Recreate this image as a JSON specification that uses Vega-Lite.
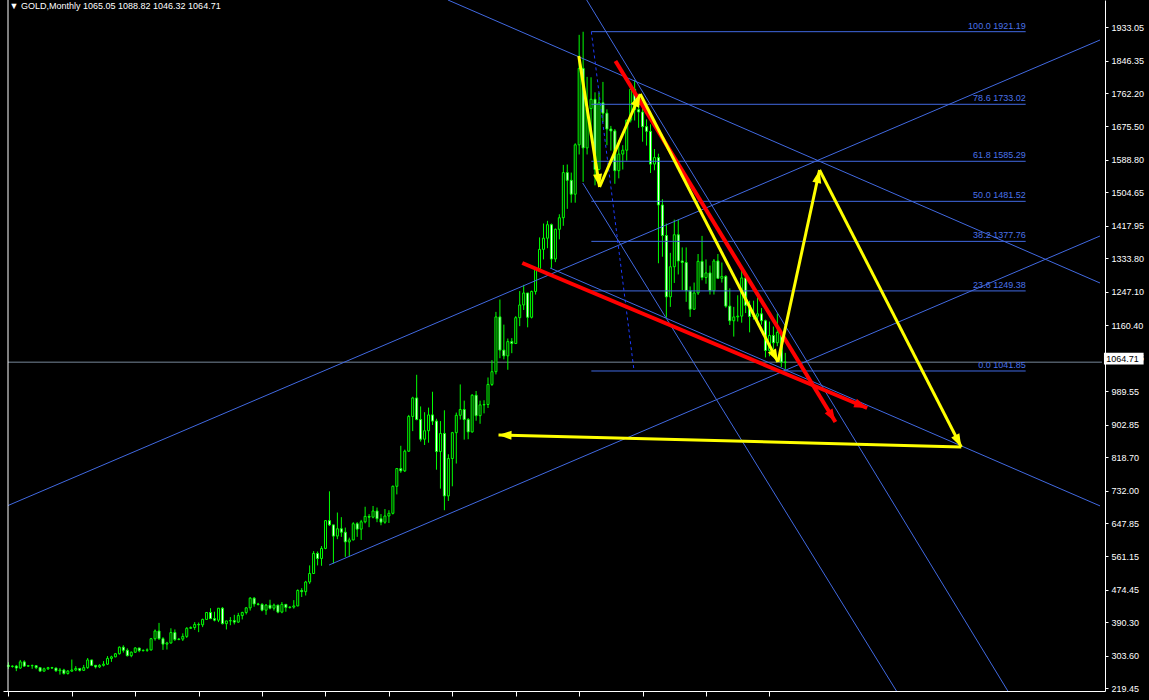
{
"$schema":"https://vega.github.io/schema/vega-lite/v6.json",
"width":1102,"height":691,
"autosize":{"type":"none"},
"padding":{"left":3,"top":0,"right":44,"bottom":9},
"background":"#000000",
"config":{"view":{"stroke":null},"axis":{"grid":false,"labelOverlap":false,"labelFont":"Liberation Sans","labelFontSize":9,"labelColor":"#ffffff","domainColor":"#ffffff","tickColor":"#ffffff","domainWidth":1,"tickWidth":1}},
"datasets":{
"candles":[
{"i":0,"o":279,"h":287,"l":270,"c":276},{"i":1,"o":276,"h":279,"l":273,"c":277},{"i":2,"o":277,"h":280,"l":264,"c":272},{"i":3,"o":272,"h":293,"l":270,"c":288},{"i":4,"o":288,"h":292,"l":275,"c":277},{"i":5,"o":277,"h":280,"l":275,"c":278},{"i":6,"o":278,"h":281,"l":270,"c":278.5},{"i":7,"o":278,"h":279,"l":269,"c":273},{"i":8,"o":273,"h":274,"l":263,"c":264},{"i":9,"o":264,"h":273,"l":263,"c":270},{"i":10,"o":270,"h":275,"l":267,"c":273},{"i":11,"o":273,"h":275,"l":270,"c":272},{"i":12,"o":272,"h":273,"l":262,"c":265},{"i":13,"o":265,"h":272,"l":255,"c":267},{"i":14,"o":267,"h":270,"l":255,"c":258},{"i":15,"o":258,"h":267,"l":255,"c":264},
{"i":16,"o":264,"h":294,"l":262,"c":267},{"i":17,"o":267,"h":277,"l":264,"c":271},{"i":18,"o":271,"h":272,"l":263,"c":266},{"i":19,"o":266,"h":280,"l":265,"c":273},{"i":20,"o":273,"h":298,"l":270,"c":293},{"i":21,"o":293,"h":293,"l":277,"c":279},{"i":22,"o":279,"h":280,"l":271,"c":275},{"i":23,"o":275,"h":282,"l":272,"c":279},{"i":24,"o":279,"h":290,"l":276,"c":282},{"i":25,"o":282,"h":303,"l":280,"c":297},{"i":26,"o":297,"h":304,"l":288,"c":301},{"i":27,"o":301,"h":311,"l":300,"c":309},{"i":28,"o":309,"h":328,"l":307,"c":326},{"i":29,"o":326,"h":331,"l":312,"c":318},{"i":30,"o":318,"h":323,"l":302,"c":304},{"i":31,"o":304,"h":315,"l":300,"c":313},
{"i":32,"o":313,"h":326,"l":311,"c":324},{"i":33,"o":324,"h":324,"l":313,"c":317},{"i":34,"o":317,"h":320,"l":315,"c":318},{"i":35,"o":318,"h":323,"l":314,"c":319},{"i":36,"o":319,"h":350,"l":317,"c":348},{"i":37,"o":348,"h":372,"l":343,"c":368},{"i":38,"o":368,"h":389,"l":345,"c":348},{"i":39,"o":348,"h":352,"l":319,"c":334},{"i":40,"o":334,"h":340,"l":320,"c":337},{"i":41,"o":337,"h":375,"l":335,"c":364},{"i":42,"o":364,"h":372,"l":342,"c":346},{"i":43,"o":346,"h":350,"l":344,"c":347},{"i":44,"o":347,"h":362,"l":342,"c":354},{"i":45,"o":354,"h":378,"l":350,"c":375},{"i":46,"o":375,"h":380,"l":373,"c":377},{"i":47,"o":377,"h":391,"l":371,"c":385},
{"i":48,"o":385,"h":390,"l":365,"c":384},{"i":49,"o":384,"h":400,"l":378,"c":398},{"i":50,"o":398,"h":417,"l":397,"c":416},{"i":51,"o":416,"h":427,"l":399,"c":400},{"i":52,"o":400,"h":418,"l":393,"c":396},{"i":53,"o":396,"h":427,"l":391,"c":427},{"i":54,"o":427,"h":430,"l":385,"c":387},{"i":55,"o":387,"h":395,"l":372,"c":394},{"i":56,"o":394,"h":404,"l":383,"c":395},{"i":57,"o":395,"h":410,"l":385,"c":391},{"i":58,"o":391,"h":415,"l":389,"c":408},{"i":59,"o":408,"h":418,"l":398,"c":416},{"i":60,"o":416,"h":430,"l":411,"c":428},{"i":61,"o":428,"h":456,"l":421,"c":453},{"i":62,"o":453,"h":456,"l":431,"c":438},{"i":63,"o":438,"h":441,"l":434,"c":437},
{"i":64,"o":437,"h":440,"l":419,"c":422},{"i":65,"o":422,"h":438,"l":410,"c":435},{"i":66,"o":435,"h":449,"l":424,"c":427},{"i":67,"o":427,"h":439,"l":421,"c":435},{"i":68,"o":435,"h":436,"l":414,"c":417},{"i":69,"o":417,"h":443,"l":414,"c":437},{"i":70,"o":437,"h":438,"l":418,"c":429},{"i":71,"o":429,"h":432,"l":426,"c":430},{"i":72,"o":430,"h":448,"l":426,"c":433},{"i":73,"o":433,"h":476,"l":432,"c":473},{"i":74,"o":473,"h":479,"l":456,"c":470},{"i":75,"o":470,"h":498,"l":460,"c":495},{"i":76,"o":495,"h":538,"l":490,"c":517},{"i":77,"o":517,"h":575,"l":516,"c":569},{"i":78,"o":569,"h":574,"l":538,"c":556},{"i":79,"o":556,"h":588,"l":537,"c":582},
{"i":80,"o":582,"h":655,"l":580,"c":654},{"i":81,"o":654,"h":730,"l":640,"c":643},{"i":82,"o":643,"h":643,"l":543,"c":614},{"i":83,"o":614,"h":675,"l":606,"c":633},{"i":84,"o":633,"h":663,"l":612,"c":624},{"i":85,"o":624,"h":636,"l":560,"c":599},{"i":86,"o":599,"h":610,"l":561,"c":604},{"i":87,"o":604,"h":650,"l":603,"c":646},{"i":88,"o":646,"h":650,"l":612,"c":632},{"i":89,"o":632,"h":656,"l":604,"c":651},{"i":90,"o":651,"h":690,"l":647,"c":665},{"i":91,"o":665,"h":671,"l":637,"c":663},{"i":92,"o":663,"h":692,"l":660,"c":679},{"i":93,"o":679,"h":688,"l":650,"c":659},{"i":94,"o":659,"h":671,"l":642,"c":650},{"i":95,"o":650,"h":684,"l":646,"c":666},
{"i":96,"o":666,"h":681,"l":648,"c":673},{"i":97,"o":673,"h":745,"l":670,"c":743},{"i":98,"o":743,"h":790,"l":722,"c":789},{"i":99,"o":789,"h":848,"l":778,"c":783},{"i":100,"o":783,"h":838,"l":780,"c":834},{"i":101,"o":834,"h":928,"l":832,"c":924},{"i":102,"o":924,"h":975,"l":886,"c":972},{"i":103,"o":972,"h":1032,"l":914,"c":916},{"i":104,"o":916,"h":950,"l":859,"c":865},{"i":105,"o":865,"h":935,"l":850,"c":887},{"i":106,"o":887,"h":947,"l":856,"c":928},{"i":107,"o":928,"h":988,"l":902,"c":912},{"i":108,"o":912,"h":918,"l":786,"c":833},{"i":109,"o":833,"h":912,"l":737,"c":880},{"i":110,"o":880,"h":940,"l":681,"c":718},{"i":111,"o":718,"h":826,"l":705,"c":815},
{"i":112,"o":815,"h":884,"l":743,"c":882},{"i":113,"o":882,"h":934,"l":802,"c":927},{"i":114,"o":927,"h":1007,"l":916,"c":942},{"i":115,"o":942,"h":965,"l":864,"c":916},{"i":116,"o":916,"h":920,"l":865,"c":884},{"i":117,"o":884,"h":982,"l":882,"c":979},{"i":118,"o":979,"h":990,"l":913,"c":926},{"i":119,"o":926,"h":965,"l":905,"c":954},{"i":120,"o":954,"h":966,"l":932,"c":955},{"i":121,"o":955,"h":1025,"l":946,"c":1007},{"i":122,"o":1007,"h":1070,"l":1003,"c":1040},{"i":123,"o":1040,"h":1195,"l":1033,"c":1182},{"i":124,"o":1182,"h":1227,"l":1075,"c":1096},{"i":125,"o":1096,"h":1162,"l":1072,"c":1081},{"i":126,"o":1081,"h":1126,"l":1045,"c":1118},{"i":127,"o":1118,"h":1127,"l":1088,"c":1113},
{"i":128,"o":1113,"h":1184,"l":1112,"c":1180},{"i":129,"o":1180,"h":1249,"l":1158,"c":1213},{"i":130,"o":1213,"h":1265,"l":1200,"c":1244},{"i":131,"o":1244,"h":1244,"l":1155,"c":1181},{"i":132,"o":1181,"h":1250,"l":1178,"c":1248},{"i":133,"o":1248,"h":1308,"l":1240,"c":1307},{"i":134,"o":1307,"h":1388,"l":1303,"c":1357},{"i":135,"o":1357,"h":1424,"l":1331,"c":1386},{"i":136,"o":1386,"h":1431,"l":1360,"c":1421},{"i":137,"o":1421,"h":1424,"l":1309,"c":1332},{"i":138,"o":1332,"h":1411,"l":1324,"c":1409},{"i":139,"o":1409,"h":1448,"l":1383,"c":1439},{"i":140,"o":1439,"h":1576,"l":1418,"c":1556},{"i":141,"o":1556,"h":1577,"l":1462,"c":1536},{"i":142,"o":1536,"h":1556,"l":1478,"c":1500},{"i":143,"o":1500,"h":1632,"l":1478,"c":1628},
{"i":144,"o":1628,"h":1913,"l":1603,"c":1826},{"i":145,"o":1826,"h":1921,"l":1532,"c":1620},{"i":146,"o":1620,"h":1804,"l":1603,"c":1722},{"i":147,"o":1722,"h":1803,"l":1667,"c":1746},{"i":148,"o":1746,"h":1764,"l":1523,"c":1564},{"i":149,"o":1564,"h":1763,"l":1562,"c":1737},{"i":150,"o":1737,"h":1791,"l":1687,"c":1710},{"i":151,"o":1710,"h":1720,"l":1627,"c":1669},{"i":152,"o":1669,"h":1677,"l":1613,"c":1664},{"i":153,"o":1664,"h":1669,"l":1527,"c":1561},{"i":154,"o":1561,"h":1640,"l":1541,"c":1604},{"i":155,"o":1604,"h":1627,"l":1564,"c":1614},{"i":156,"o":1614,"h":1693,"l":1587,"c":1692},{"i":157,"o":1692,"h":1788,"l":1686,"c":1772},{"i":158,"o":1772,"h":1796,"l":1691,"c":1719},{"i":159,"o":1719,"h":1755,"l":1672,"c":1713},
{"i":160,"o":1713,"h":1723,"l":1636,"c":1675},{"i":161,"o":1675,"h":1694,"l":1626,"c":1663},{"i":162,"o":1663,"h":1681,"l":1555,"c":1578},{"i":163,"o":1578,"h":1617,"l":1562,"c":1595},{"i":164,"o":1595,"h":1605,"l":1321,"c":1472},{"i":165,"o":1472,"h":1487,"l":1338,"c":1393},{"i":166,"o":1393,"h":1424,"l":1180,"c":1234},{"i":167,"o":1234,"h":1348,"l":1208,"c":1312},{"i":168,"o":1312,"h":1434,"l":1270,"c":1395},{"i":169,"o":1395,"h":1434,"l":1292,"c":1327},{"i":170,"o":1327,"h":1362,"l":1251,"c":1323},{"i":171,"o":1323,"h":1362,"l":1221,"c":1250},{"i":172,"o":1250,"h":1261,"l":1182,"c":1202},{"i":173,"o":1202,"h":1271,"l":1200,"c":1244},{"i":174,"o":1244,"h":1345,"l":1239,"c":1326},{"i":175,"o":1326,"h":1392,"l":1277,"c":1284},
{"i":176,"o":1284,"h":1331,"l":1268,"c":1296},{"i":177,"o":1296,"h":1315,"l":1240,"c":1250},{"i":178,"o":1250,"h":1332,"l":1240,"c":1327},{"i":179,"o":1327,"h":1345,"l":1280,"c":1282},{"i":180,"o":1282,"h":1323,"l":1271,"c":1287},{"i":181,"o":1287,"h":1290,"l":1206,"c":1210},{"i":182,"o":1210,"h":1256,"l":1161,"c":1172},{"i":183,"o":1172,"h":1208,"l":1131,"c":1182},{"i":184,"o":1182,"h":1238,"l":1170,"c":1184},{"i":185,"o":1184,"h":1307,"l":1167,"c":1283},{"i":186,"o":1283,"h":1293,"l":1192,"c":1212},{"i":187,"o":1212,"h":1224,"l":1142,"c":1183},{"i":188,"o":1183,"h":1224,"l":1175,"c":1184},{"i":189,"o":1184,"h":1232,"l":1170,"c":1190},{"i":190,"o":1190,"h":1205,"l":1162,"c":1172},{"i":191,"o":1172,"h":1175,"l":1077,"c":1095},
{"i":192,"o":1095,"h":1170,"l":1080,"c":1134},{"i":193,"o":1134,"h":1157,"l":1098,"c":1115},{"i":194,"o":1115,"h":1191,"l":1106,"c":1142},{"i":195,"o":1142,"h":1143,"l":1052,"c":1065},{"i":196,"o":1065.05,"h":1088.82,"l":1046.32,"c":1064.71}
],
"blue":[
{"x1":-0.1,"p1":693.2,"x2":275.4,"p2":1899.6},
{"x1":80.9,"p1":539.0,"x2":275.4,"p2":1391.7},
{"x1":110.9,"p1":2003.3,"x2":275.4,"p2":1269.9},
{"x1":136.65,"p1":1308.8,"x2":275.4,"p2":692.2},
{"x1":145.9,"p1":2003.3,"x2":252.15,"p2":212.5},
{"x1":144.9,"p1":1529.0,"x2":224.05,"p2":212.5}
],
"fib":[
{"lab":"100.0 1921.19","p":1921.19},{"lab":"78.6 1733.02","p":1733.02},{"lab":"61.8 1585.29","p":1585.29},{"lab":"50.0  1481.52","p":1481.52},{"lab":"38.2 1377.76","p":1377.76},{"lab":"23.6 1249.38","p":1249.38},{"lab":"0.0 1041.85","p":1041.85}
],
"fibtrend":[{"x1":147.07,"p1":1921.19,"x2":157.85,"p2":1041.85}],
"red":[
{"x1":153.15,"p1":1845.2,"x2":208.65,"p2":909.6},
{"x1":129.65,"p1":1321.7,"x2":216.65,"p2":945.9}
],
"yellow":[
{"x1":143.9,"p1":1858.2,"x2":149.15,"p2":1518.7},
{"x1":149.15,"p1":1518.7,"x2":159.4,"p2":1759.7},
{"x1":159.4,"p1":1759.7,"x2":194.15,"p2":1065.1},
{"x1":194.15,"p1":1065.1,"x2":204.65,"p2":1562.7},
{"x1":204.65,"p1":1562.7,"x2":240.4,"p2":844.9},
{"x1":240.4,"p1":844.9,"x2":123.65,"p2":876.0}
],
"bid":[{"p":1064.71,"lab":"1064.71"}],
"head":[{"lab":"▼  GOLD,Monthly  1065.05 1088.82 1046.32 1064.71"}]
},
"layer":[
{"data":{"name":"bid"},"mark":{"type":"rule","color":"#778899","strokeWidth":1},
 "encoding":{
  "x":{"datum":-0.1,"type":"quantitative","title":null,"scale":{"domain":[-0.1,275.4],"nice":false,"zero":false},
   "axis":{"orient":"bottom","title":null,"values":[0,16,32,48,64,80,96,112,128,144,160,176,192],"tickCount":40,"labelExpr":"['1 Apr 2000','1 May 2001','1 Sep 2002','1 Oct 2003','1 Jan 2005','1 Apr 2006','1 Aug 2007','1 Dec 2008','1 Apr 2010','1 Aug 2011','1 Dec 2012','1 Apr 2014','1 Aug 2015'][round(datum.value/16)]","tickSize":5,"labelAlign":"left","labelBaseline":"top","labelPadding":2,"labelFlush":false,"labelOverlap":false,"labelBound":false}},
  "x2":{"datum":275.9},
  "y":{"field":"p","type":"quantitative","title":null,"scale":{"domain":[212.5,2003.3],"nice":false,"zero":false},
   "axis":{"orient":"right","title":null,"values":[219.45,303.6,390.3,474.45,561.15,647.85,732,818.7,902.85,989.55,1076.25,1160.4,1247.1,1333.8,1417.95,1504.65,1588.8,1675.5,1762.2,1846.35,1933.05],"tickCount":40,"format":".2f","tickSize":3,"labelPadding":3,"labelOverlap":false,"labelFlush":false,"labelBound":false}}}},
{"data":{"name":"candles"},"mark":{"type":"rule","color":"#00ff00","strokeWidth":1},
 "encoding":{
  "x":{"field":"i","type":"quantitative","title":null},
  "y":{"field":"l","type":"quantitative","title":null},
  "y2":{"field":"h"}}},
{"data":{"name":"candles"},"mark":{"type":"bar","width":2,"stroke":"#00ff00","strokeWidth":1},
 "encoding":{
  "x":{"field":"i","type":"quantitative","title":null},
  "y":{"field":"o","type":"quantitative","title":null},
  "y2":{"field":"c"},
  "fill":{"condition":{"test":"datum.c < datum.o","value":"#ffffff"},"value":"#000000"}}},
{"data":{"name":"blue"},"mark":{"type":"rule","color":"#4169e1","strokeWidth":1,"clip":true},
 "encoding":{"x":{"field":"x1","type":"quantitative","title":null},"x2":{"field":"x2"},"y":{"field":"p1","type":"quantitative","title":null},"y2":{"field":"p2"}}},
{"data":{"name":"fib"},"mark":{"type":"rule","color":"#4169e1","strokeWidth":1},
 "encoding":{"x":{"datum":147.07,"type":"quantitative"},"x2":{"datum":256.65},"y":{"field":"p","type":"quantitative","title":null}}},
{"data":{"name":"fib"},"mark":{"type":"text","color":"#4a72e8","font":"Liberation Sans","fontSize":9,"align":"right","baseline":"bottom","dy":-1},
 "encoding":{"x":{"datum":256.65,"type":"quantitative"},"y":{"field":"p","type":"quantitative","title":null},"text":{"field":"lab"}}},
{"data":{"name":"fibtrend"},"mark":{"type":"rule","color":"#1e3cff","strokeWidth":1,"strokeDash":[3,3]},
 "encoding":{"x":{"field":"x1","type":"quantitative","title":null},"x2":{"field":"x2"},"y":{"field":"p1","type":"quantitative","title":null},"y2":{"field":"p2"}}},
{"data":{"name":"red"},"mark":{"type":"rule","color":"#ff0000","strokeWidth":4},
 "encoding":{"x":{"field":"x1","type":"quantitative","title":null},"x2":{"field":"x2"},"y":{"field":"p1","type":"quantitative","title":null},"y2":{"field":"p2"}}},
{"data":{"name":"red"},"mark":{"type":"point","shape":"M0,0L-0.7,2L0.7,2Z","filled":true,"color":"#ff0000","opacity":1,"size":169,"angle":{"expr":"atan2((datum.x2-datum.x1)*4,(datum.p2-datum.p1)/2.5916)*180/PI"}},
 "encoding":{"x":{"field":"x2","type":"quantitative","title":null},"y":{"field":"p2","type":"quantitative","title":null}}},
{"data":{"name":"yellow"},"mark":{"type":"rule","color":"#ffff00","strokeWidth":3},
 "encoding":{"x":{"field":"x1","type":"quantitative","title":null},"x2":{"field":"x2"},"y":{"field":"p1","type":"quantitative","title":null},"y2":{"field":"p2"}}},
{"data":{"name":"yellow"},"mark":{"type":"point","shape":"M0,0L-0.7,2L0.7,2Z","filled":true,"color":"#ffff00","opacity":1,"size":169,"angle":{"expr":"atan2((datum.x2-datum.x1)*4,(datum.p2-datum.p1)/2.5916)*180/PI"}},
 "encoding":{"x":{"field":"x2","type":"quantitative","title":null},"y":{"field":"p2","type":"quantitative","title":null}}},
{"data":{"name":"bid"},"mark":{"type":"rect","color":"#ffffff"},
 "encoding":{"x":{"datum":276.4,"type":"quantitative"},"x2":{"datum":286.4},"y":{"datum":1089.2,"type":"quantitative"},"y2":{"datum":1058.7}}},
{"data":{"name":"bid"},"mark":{"type":"text","color":"#000000","font":"Liberation Sans","fontSize":9,"align":"left","baseline":"middle"},
 "encoding":{"x":{"datum":277.0,"type":"quantitative"},"y":{"datum":1074.2,"type":"quantitative"},"text":{"field":"lab"}}},
{"data":{"name":"head"},"mark":{"type":"text","color":"#ffffff","font":"Liberation Sans","fontSize":9,"align":"left","baseline":"middle"},
 "encoding":{"x":{"datum":0.3,"type":"quantitative"},"y":{"datum":1988,"type":"quantitative"},"text":{"field":"lab"}}},
{"data":{"name":"head"},"mark":{"type":"rule","color":"#ffffff","strokeWidth":1},
 "encoding":{"x":{"datum":-0.1,"type":"quantitative"},"y":{"datum":212.5,"type":"quantitative"},"y2":{"datum":2003.3}}}
]
}
